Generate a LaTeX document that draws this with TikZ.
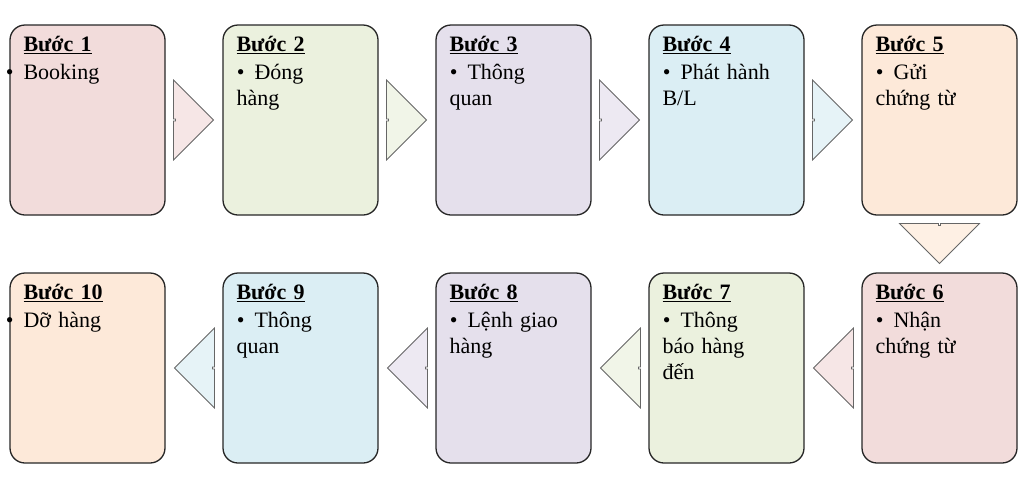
\documentclass[tikz,border=0pt]{standalone}
\usepackage{fontspec}
\setmainfont{Liberation Serif}
\usetikzlibrary{shapes.arrows, positioning, calc}

\definecolor{cpink}{HTML}{F2DCDB}
\definecolor{cgreen}{HTML}{EBF1DE}
\definecolor{cpurple}{HTML}{E5E0EC}
\definecolor{cblue}{HTML}{DBEEF4}
\definecolor{corange}{HTML}{FDE9D9}

\tikzset{
  stepbox/.style={draw=black!85, line width=1.3pt, rounded corners=15pt, minimum width=155pt, minimum height=190pt, inner sep=0},
  steptext/.style={anchor=north west, text width=140pt, align=left, inner sep=0, font=\fontsize{22pt}{26pt}\selectfont},
  flowarrow/.style={single arrow, draw=black!60, line width=0.8pt, inner sep=0, minimum height=38pt, minimum width=80pt, single arrow head extend=15pt}
}
\newcommand{\stepcontent}[2]{\underline{\textbf{Bước #1}}\par\vspace{2pt}
  \hangindent=18pt\hangafter=0\noindent\llap{\textbullet\hspace{10pt}}#2}

\begin{document}
\begin{tikzpicture}[x=1pt, y=-1pt]
    \useasboundingbox (0,0) rectangle (1024,488);

    % Row 1
    \node[stepbox, fill=cpink] (b1) at (87.5,120) {};
    \node[stepbox, fill=cgreen] (b2) at (300.5,120) {};
    \node[stepbox, fill=cpurple] (b3) at (513.5,120) {};
    \node[stepbox, fill=cblue] (b4) at (726.5,120) {};
    \node[stepbox, fill=corange] (b5) at (939.5,120) {};

    % Row 2
    \node[stepbox, fill=cpink] (b6) at (939.5,368) {};
    \node[stepbox, fill=cgreen] (b7) at (726.5,368) {};
    \node[stepbox, fill=cpurple] (b8) at (513.5,368) {};
    \node[stepbox, fill=cblue] (b9) at (300.5,368) {};
    \node[stepbox, fill=corange] (b10) at (87.5,368) {};

    % Texts
    \node[steptext] (t1) at ([shift={(14,12)}]b1.north west) {\stepcontent{1}{Booking}};
    \node[steptext] (t2) at ([shift={(14,12)}]b2.north west) {\stepcontent{2}{Đóng\\hàng}};
    \node[steptext] (t3) at ([shift={(14,12)}]b3.north west) {\stepcontent{3}{Thông\\quan}};
    \node[steptext] (t4) at ([shift={(14,12)}]b4.north west) {\stepcontent{4}{Phát hành\\B/L}};
    \node[steptext] (t5) at ([shift={(14,12)}]b5.north west) {\stepcontent{5}{Gửi\\chứng từ}};
    \node[steptext] (t6) at ([shift={(14,12)}]b6.north west) {\stepcontent{6}{Nhận\\chứng từ}};
    \node[steptext] (t7) at ([shift={(14,12)}]b7.north west) {\stepcontent{7}{Thông\\báo hàng\\đến}};
    \node[steptext] (t8) at ([shift={(14,12)}]b8.north west) {\stepcontent{8}{Lệnh giao\\hàng}};
    \node[steptext] (t9) at ([shift={(14,12)}]b9.north west) {\stepcontent{9}{Thông\\quan}};
    \node[steptext] (t10) at ([shift={(14,12)}]b10.north west) {\stepcontent{10}{Dỡ hàng}};

    % Arrows
    \node[flowarrow, fill=cpink!70] (a12) at ($(b1.east)!0.5!(b2.west)$) {};
    \node[flowarrow, fill=cgreen!70] (a23) at ($(b2.east)!0.5!(b3.west)$) {};
    \node[flowarrow, fill=cpurple!70] (a34) at ($(b3.east)!0.5!(b4.west)$) {};
    \node[flowarrow, fill=cblue!70] (a45) at ($(b4.east)!0.5!(b5.west)$) {};
    \node[flowarrow, fill=corange!70, shape border rotate=270] (a56) at ($(b5.south)!0.5!(b6.north)$) {};
    \node[flowarrow, fill=cpink!70, shape border rotate=180] (a67) at ($(b6.west)!0.5!(b7.east)$) {};
    \node[flowarrow, fill=cgreen!70, shape border rotate=180] (a78) at ($(b7.west)!0.5!(b8.east)$) {};
    \node[flowarrow, fill=cpurple!70, shape border rotate=180] (a89) at ($(b8.west)!0.5!(b9.east)$) {};
    \node[flowarrow, fill=cblue!70, shape border rotate=180] (a910) at ($(b9.west)!0.5!(b10.east)$) {};
\end{tikzpicture}
\end{document}
